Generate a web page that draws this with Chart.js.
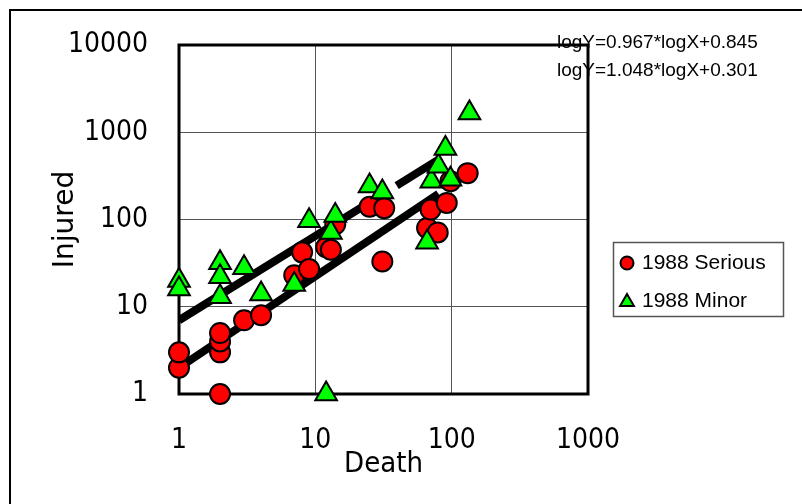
<!DOCTYPE html>
<html>
<head>
<meta charset="utf-8">
<script src="https://cdn.jsdelivr.net/npm/chart.js"></script>
<style>
  html, body { margin: 0; padding: 0; background: #fff; }
</style>
</head>
<body>
<canvas id="injuryChart" width="802" height="504"></canvas>
<script>
// values: deaths vs. injured per accident
var seriousDeath   = [1, 1, 2, 2, 2, 2, 3, 4, 7, 8, 9, 12, 13, 14, 25, 32, 31, 66, 79, 70, 92, 98, 131];
var seriousInjured = [2, 3, 1, 3, 4, 5, 7, 8, 23, 42, 27, 48, 45, 88, 140, 135, 33, 80, 71, 130, 155, 275, 340];
var minorDeath   = [1, 1, 2, 2, 2, 3, 4, 7, 9, 12, 13, 14, 25, 31, 66, 71, 80, 90, 98, 135];
var minorInjured = [20, 16, 32, 22, 13, 28, 14, 18, 97, 1, 71, 111, 242, 207, 55, 275, 407, 650, 290, 1660];

// fitted trend lines (serious, minor) as printed on the chart
var fitSlope = [1.048, 0.967];
var fitIntercept = [0.301, 0.845];
var fitRange = [1, 80];
var fitLabels = ['logY=0.967*logX+0.845', 'logY=1.048*logX+0.301'];

var seriesNames = ['1988 Serious', '1988 Minor'];
var xTicks = [1, 10, 100, 1000];
var yTicks = [1, 10, 100, 1000, 10000];

function toPoints(xs, ys) {
    return xs.map(function (x, i) { return { x: x, y: ys[i] }; });
}
function fitPoints(k) {
    return fitRange.map(function (x) {
        return { x: x, y: Math.pow(10, fitSlope[k] * Math.log10(x) + fitIntercept[k]) };
    });
}

var narrow = '"Liberation Sans Narrow", "DejaVu Sans Condensed", sans-serif';

var decorations = {
    id: 'decorations',
    beforeDraw: function (chart) {
        var ctx = chart.ctx;
        ctx.save();
        ctx.fillStyle = '#fff';
        ctx.fillRect(0, 0, chart.width, chart.height);
        ctx.strokeStyle = '#000';
        ctx.lineWidth = 2;
        ctx.strokeRect(10, 10, 900, 700);
        ctx.restore();
    },
    beforeDatasetsDraw: function (chart) {
        var a = chart.chartArea, ctx = chart.ctx;
        ctx.save();
        ctx.strokeStyle = '#000';
        ctx.lineWidth = 3;
        ctx.strokeRect(a.left, a.top, a.right - a.left, a.bottom - a.top);
        ctx.restore();
    },
    afterDraw: function (chart) {
        var ctx = chart.ctx;
        ctx.save();
        ctx.fillStyle = '#000';
        ctx.textBaseline = 'middle';
        ctx.font = '19px "Liberation Sans", Arial, sans-serif';
        ctx.fillText(fitLabels[0], 557, 43);
        ctx.fillText(fitLabels[1], 557, 71);

        // legend
        ctx.strokeStyle = '#555';
        ctx.lineWidth = 1.5;
        ctx.strokeRect(613.5, 242.5, 170, 74);
        var rows = [263, 301];
        var sizes = [6.5, 8];
        [2, 3].forEach(function (di, i) {
            var ds = chart.data.datasets[di];
            ctx.fillStyle = ds.backgroundColor;
            ctx.strokeStyle = ds.borderColor;
            ctx.lineWidth = 2;
            Chart.helpers.drawPoint(ctx, { pointStyle: ds.pointStyle, radius: sizes[i], borderWidth: 2, rotation: 0 }, 627, rows[i] + (i ? 1 : 0));
            ctx.fillStyle = '#000';
            ctx.font = '21px "Liberation Sans", Arial, sans-serif';
            ctx.fillText(seriesNames[i], 642, rows[i]);
        });
        ctx.restore();
    }
};

var ctx = document.getElementById('injuryChart').getContext('2d');
var injuryChart = new Chart(ctx, {
    type: 'scatter',
    data: {
        datasets: [{
            label: 'fit serious',
            data: fitPoints(0),
            showLine: true,
            borderColor: '#000',
            borderWidth: 8,
            borderCapStyle: 'butt',
            pointRadius: 0,
            order: 3
        }, {
            label: 'fit minor',
            data: fitPoints(1),
            showLine: true,
            borderColor: '#000',
            borderWidth: 8,
            borderDash: [228, 28],
            borderCapStyle: 'butt',
            pointRadius: 0,
            order: 3
        }, {
            label: seriesNames[0],
            data: toPoints(seriousDeath, seriousInjured),
            pointStyle: 'circle',
            pointRadius: 10,
            backgroundColor: '#ff0000',
            borderColor: '#000',
            borderWidth: 2,
            clip: false,
            order: 2
        }, {
            label: seriesNames[1],
            data: toPoints(minorDeath, minorInjured),
            pointStyle: 'triangle',
            pointRadius: 12.5,
            backgroundColor: '#00ff00',
            borderColor: '#000',
            borderWidth: 2,
            clip: false,
            order: 1
        }]
    },
    options: {
        responsive: false,
        animation: false,
        devicePixelRatio: 1,
        layout: { padding: { left: 0, top: 36, right: 214, bottom: 0 } },
        plugins: {
            legend: { display: false },
            tooltip: { enabled: false }
        },
        scales: {
            x: {
                type: 'logarithmic',
                min: 1,
                max: 1000,
                afterBuildTicks: function (s) { s.ticks = xTicks.map(function (v) { return { value: v }; }); },
                afterFit: function (s) { s.height = 110; },
                grid: { color: '#555', lineWidth: 1, drawTicks: false },
                border: { display: false },
                ticks: {
                    color: '#000',
                    padding: 33,
                    maxRotation: 0,
                    autoSkip: false,
                    font: { family: narrow, size: 28, lineHeight: 1 },
                    callback: function (v) { return String(v); }
                },
                title: {
                    display: true,
                    text: 'Death',
                    color: '#000',
                    padding: { top: 0, bottom: 22 },
                    font: { family: narrow, size: 29, lineHeight: 1.2 }
                }
            },
            y: {
                type: 'logarithmic',
                min: 1,
                max: 10000,
                afterBuildTicks: function (s) { s.ticks = yTicks.map(function (v) { return { value: v }; }); },
                afterFit: function (s) { s.width = 179; },
                grid: { color: '#555', lineWidth: 1, drawTicks: false },
                border: { display: false },
                ticks: {
                    color: '#000',
                    padding: 31,
                    autoSkip: false,
                    font: { family: narrow, size: 28, lineHeight: 1 },
                    callback: function (v) { return String(v); }
                },
                title: {
                    display: true,
                    text: 'Injured',
                    color: '#000',
                    padding: { top: 49, bottom: 0 },
                    font: { family: '"DejaVu Sans", sans-serif', size: 28 }
                }
            }
        }
    },
    plugins: [decorations]
});
</script>
</body>
</html>
